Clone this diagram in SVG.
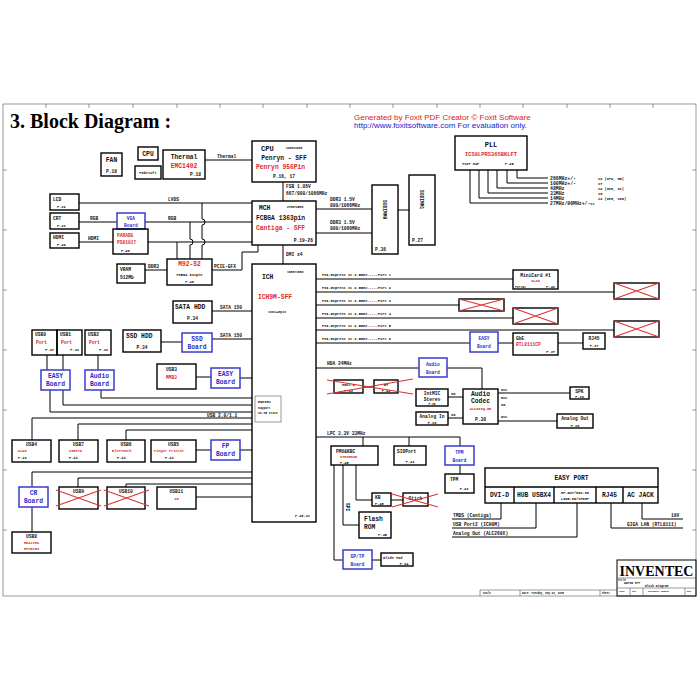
<svg xmlns="http://www.w3.org/2000/svg" width="700" height="700" viewBox="0 0 700 700">
<style>
.b{fill:none;stroke:#000;stroke-width:1.4}
.bb{fill:none;stroke:#3a3ad0;stroke-width:1.5}
.l{fill:none;stroke:#000;stroke-width:1}
.g{fill:none;stroke:#555;stroke-width:0.6}
.x{stroke:#e03030;stroke-width:1.1}
text{font-family:"Liberation Mono","DejaVu Sans Mono",monospace;font-weight:bold;font-size:6.3px;fill:#111}
.r{fill:#e02828}
.u{fill:#2b2bc8}
.s{font-size:4.6px}
.xs{font-size:3.6px}
.m{text-anchor:middle}
.e{text-anchor:end}
.c{font-size:4.8px}
</style>
<rect width="700" height="700" fill="#fff"/>
<g id="frame">
<rect x="3" y="104" width="693" height="492" class="g" stroke-width="0.8"/>
<path class="g" d="M46,104v4M89,104v4M133,104v4M177,104v4M220,104v4M263,104v4M307,104v4M350,104v4M393,104v4M437,104v4M480,104v4M523,104v4M567,104v4M610,104v4M653,104v4M3,170h4M3,230h4M3,290h4M3,350h4M3,410h4M3,470h4M3,530h4M696,170h-4M696,230h-4M696,290h-4M696,350h-4M696,410h-4M696,470h-4M696,530h-4"/>
<text x="10" y="128" style="font-family:'Liberation Serif',serif;font-size:20px;font-weight:bold;fill:#000">3. Block Diagram :</text>
<text x="354" y="120" style="font-family:'Liberation Sans',sans-serif;font-size:8px;font-weight:normal;fill:#e02020">Generated by Foxit PDF Creator © Foxit Software</text>
<text x="354" y="128" style="font-family:'Liberation Sans',sans-serif;font-size:8px;font-weight:normal;fill:#2020d0">http://www.foxitsoftware.com   For evaluation only.</text>
</g>
<g id="connectors">
<path class="l" d="M205,160H252M283,182V201M316,209H372M316,233H372M398,210H409M283,245V264"/>
<path class="l" d="M517,170V178H548M507,170V183H548M497,170V188H548M488,170V193H548M479,170V198H548M470,170V203H548"/>
<path class="l" d="M79,203H252M79,222H117M145,222H252M79,242H113M148,242H252M202,203V219a3,3 0 0 1 0,6V239a3,3 0 0 1 0,6V259M190,222V239a3,3 0 0 1 0,6V259M177,242V259M145,270H167M212,270H242V252H258V245"/>
<path class="l" d="M316,279H513M316,292H614M316,305H459M316,318H513M316,330H614M316,343H470M498,343H513M558,343H583"/>
<path class="l" d="M316,368H419M447,368H482V389M363,387H374M448,397H463M448,418H463M498,393H570M498,421H557"/>
<path class="l" d="M212,311H252M161,342H182M212,339H252M196,377H211M240,378H252"/>
<path class="l" d="M47,355V370M63,355V370M98,355V370M50,390V412H252M63,390V405H252M101,390V398H252M32,418H252M32,418V440M78,424H252M78,424V440M126,430H252M126,430V440M196,450H211M240,450H252"/>
<path class="l" d="M32,472H252M32,472V487M78,478H252M78,478V487M126,484H252M126,484V487M196,497H252M32,507V532"/>
<path class="l" d="M316,437H460M363,437V446M409,437V446M460,437V446M460,465V474M356,465V500H372M391,500H403M343,465V525H359M334,465V560H343M372,560H381"/>
<path class="l" d="M501,503V519H452M536,503V528H452M577,503V537H452M611,503V528H683M642,503V519H683"/>
<text x="217" y="158" class="s">Thermal</text>
<text x="286" y="188" class="s">FSB 1.05V</text>
<text x="286" y="195" class="s">667/800/1066MHz</text>
<text x="330" y="201" class="s">DDR3 1.5V</text>
<text x="330" y="207" class="s">800/1066MHz</text>
<text x="330" y="224" class="s">DDR3 1.5V</text>
<text x="330" y="230" class="s">800/1066MHz</text>
<text x="286" y="256" class="s">DMI x4</text>
<text x="168" y="201" class="s">LVDS</text>
<text x="90" y="220" class="s">RGB</text>
<text x="168" y="220" class="s">RGB</text>
<text x="88" y="240" class="s">HDMI</text>
<text x="148" y="268" class="s">DDR3</text>
<text x="214" y="268" class="s">PCIE-GFX</text>
<text x="550" y="180" class="c">266MHz+/-</text>
<text x="550" y="185" class="c">100MHz+/-</text>
<text x="550" y="190" class="c">48MHz</text>
<text x="550" y="195" class="c">33MHz</text>
<text x="550" y="200" class="c">14MHz</text>
<text x="550" y="205" class="c">27MHz/96MHz+/-<tspan class="xs">x1</tspan></text>
<text x="598" y="179.5" class="xs">x2 (CPU, HB)</text>
<text x="598" y="184.5" class="xs">x7</text>
<text x="598" y="189.5" class="xs">x2 (ICH, SC)</text>
<text x="598" y="194.5" class="xs">x6</text>
<text x="598" y="199.5" class="xs">x2 (ICH, SIO)</text>
<text x="322" y="276" class="xs">PCI-Express x1 2.5GHz-----Port 1</text>
<text x="322" y="289" class="xs">PCI-Express x1 2.5GHz-----Port 2</text>
<text x="322" y="302" class="xs">PCI-Express x1 2.5GHz-----Port 3</text>
<text x="322" y="315" class="xs">PCI-Express x1 2.5GHz-----Port 4</text>
<text x="322" y="327" class="xs">PCI-Express x1 2.5GHz-----Port 5</text>
<text x="322" y="340" class="xs">PCI-Express x1 2.5GHz-----Port 6</text>
<text x="327" y="365" class="s">HDA 24MHz</text>
<text x="451" y="395" class="xs">IN</text>
<text x="451" y="416" class="xs">IN</text>
<text x="501" y="391" class="xs">Out</text>
<text x="501" y="399" class="xs">Out</text>
<text x="501" y="406" class="xs">IN</text>
<text x="501" y="418" class="xs">Out</text>
<text x="220" y="309" class="s">SATA 150</text>
<text x="220" y="337" class="s">SATA 150</text>
<text x="207" y="416.5" class="s">USB 2.0/1.1</text>
<text x="327" y="435" class="s">LPC 3.3V 33MHz</text>
<text class="s" transform="translate(346,503) rotate(90)">SPI</text>
<text x="453" y="517" class="s">TMDS (Cantiga)</text>
<text x="453" y="526" class="s">USB Port2 (ICH9M)</text>
<text x="453" y="535" class="s">Analog Out (ALC269X)</text>
<text x="627" y="526" class="s">GIGA LAN (RTL8111)</text>
<text x="671" y="517" class="s">19V</text>
</g>
<g id="fan"><rect class="b" x="101" y="153" width="21" height="23"/><text x="111.5" y="162" class="m">FAN</text><text x="111.5" y="173" class="m s">P.18</text></g>
<g id="cpu-small"><rect class="b" x="138" y="147" width="20" height="13"/><text x="148" y="156" class="m">CPU</text></g>
<g id="fab"><rect class="b" x="135" y="166" width="26" height="13"/><text x="148" y="174" class="m xs">Fabrsoft</text></g>
<g id="thermal"><rect class="b" x="163" y="150" width="42" height="29"/><text x="184" y="159" class="m">Thermal</text><text x="184" y="167.5" class="m r">EMC1402</text><text x="190" y="176" class="s">P.18</text></g>
<g id="cpu"><rect class="b" x="252" y="141" width="64" height="41"/><text x="261" y="151" style="font-size:7px">CPU</text><text x="286" y="149" class="xs" style="font-size:3px">22mm×22mm</text><text x="284" y="159.5" class="m">Penryn - SFF</text><text x="256" y="169" class="r">Penryn 956Pin</text><text x="284" y="178" class="m s">P.16, 17</text></g>
<g id="mch"><rect class="b" x="252" y="201" width="64" height="44"/><text x="259" y="210">MCH</text><text x="287" y="208" class="xs" style="font-size:3px">27mm×25mm</text><text x="256" y="220">FCBGA 1363pin</text><text x="256" y="230" class="r">Cantiga - SFF</text><text x="313" y="242" class="e s">P.19-26</text></g>
<g id="sodimm0"><rect class="b" x="372" y="185" width="26" height="69"/><text transform="translate(383,200) rotate(90)" class="s">SODIMM0</text><text x="375" y="251" class="s">P.36</text></g>
<g id="sodimm1"><rect class="b" x="409" y="175" width="26" height="70"/><text transform="translate(420,190) rotate(90)" class="s">SODIMM1</text><text x="412" y="242" class="s">P.27</text></g>
<g id="pll"><rect class="b" x="455" y="136" width="72" height="34"/><text x="491" y="147" class="m" style="font-size:7px">PLL</text><text x="491" y="156" class="m r" style="font-size:5.4px">ICS9LPRS365BKLFT</text><text x="462" y="164.5" class="xs">TSSP 64P</text><text x="505" y="164.5" class="xs">P.25</text></g>
<g id="lcd"><rect class="b" x="50" y="194" width="29" height="16"/><text x="53" y="200.5" class="s">LCD</text><text x="57" y="208" class="xs">P.32</text></g>
<g id="crt"><rect class="b" x="50" y="213" width="29" height="16"/><text x="53" y="219.5" class="s">CRT</text><text x="57" y="227" class="xs">P.33</text></g>
<g id="hdmi"><rect class="b" x="50" y="233" width="29" height="15"/><text x="53" y="238.5" class="s">HDMI</text><text x="57" y="246" class="xs">P.40</text></g>
<g id="vga-board"><rect class="bb" x="117" y="213" width="28" height="16"/><text x="131" y="220" class="m u s">VGA</text><text x="131" y="227" class="m u s">Board</text></g>
<g id="parade"><rect class="b" x="113" y="229" width="35" height="25"/><text x="117" y="237" class="r s">PARADE</text><text x="117" y="244" class="r s">PS8101T</text><text x="121" y="252" class="xs">P.48</text></g>
<g id="vram"><rect class="b" x="117" y="264" width="28" height="19"/><text x="120" y="270.5" class="s">VRAM</text><text x="120" y="279" class="s">512Mb</text></g>
<g id="m92"><rect class="b" x="167" y="259" width="45" height="26"/><text x="189.5" y="266" class="m r">M92-S2</text><text x="189.5" y="276" class="m xs">FCBGA 631pin</text><text x="189.5" y="283" class="m xs">P.40</text></g>
<g id="ich"><rect class="b" x="252" y="264" width="64" height="258"/><text x="262" y="279">ICH</text><text x="287" y="273" class="xs" style="font-size:3px">16mm×16mm</text><text x="258" y="299" class="r">ICH9M-SFF</text><text x="268" y="313" class="xs" style="font-size:3px">1363+48pin</text><text x="310" y="517" class="e xs">P.20-31</text>
<rect x="255" y="396" width="26" height="26" class="g"/><text x="258" y="403" class="xs">ENCIR1</text><text x="258" y="409" class="xs" style="font-size:3px">Support</text><text x="258" y="414" class="xs" style="font-size:3px">S3-S5 state</text></g>
<g id="minicard"><rect class="b" x="513" y="270" width="45" height="19"/><text x="535.5" y="276.5" class="m s">MiniCard #1</text><text x="535.5" y="282" class="m r xs">WLAN</text><text x="515" y="287.5" class="xs" style="font-size:3px">Port#1</text><text x="555" y="287.5" class="e xs">P.43</text></g>
<g id="nc1"><rect class="b" x="614" y="283" width="45" height="16"/><path class="x" d="M614,283L659,299M614,299L659,283"/></g>
<g id="nc2"><rect class="b" x="459" y="299" width="45" height="12"/><path class="x" d="M459,299L504,311M459,311L504,299"/></g>
<g id="nc3"><rect class="b" x="513" y="308" width="45" height="16"/><path class="x" d="M513,308L558,324M513,324L558,308"/></g>
<g id="nc4"><rect class="b" x="614" y="321" width="45" height="16"/><path class="x" d="M614,321L659,337M614,337L659,321"/></g>
<g id="easy-board-lan"><rect class="bb" x="470" y="332" width="28" height="20"/><text x="484" y="340" class="m u s">EASY</text><text x="484" y="348" class="m u s">Board</text></g>
<g id="gbe"><rect class="b" x="513" y="333" width="45" height="22"/><text x="516" y="339.5" class="s">GbE</text><text x="516" y="346" class="r s">RTL8111CP</text><text x="555" y="352.5" class="e xs">P.37</text></g>
<g id="rj45"><rect class="b" x="583" y="333" width="22" height="16"/><text x="594" y="339.5" class="m s">RJ45</text><text x="594" y="347" class="m xs">P.37</text></g>
<g id="audio-board"><rect class="bb" x="419" y="358" width="28" height="19"/><text x="433" y="366" class="m u s">Audio</text><text x="433" y="374" class="m u s">Board</text></g>
<g id="mdc"><rect class="b" x="334" y="380" width="29" height="13"/><text x="348.5" y="386" class="m xs">MDC1.5</text><text x="348.5" y="391.5" class="m xs">P.43</text></g>
<g id="bt"><rect class="b" x="374" y="380" width="24" height="13"/><text x="386" y="386" class="m xs">BT</text><text x="386" y="391.5" class="m xs">P.44</text></g>
<path class="x" d="M327,380L413,394M327,394L413,379"/>
<g id="intmic"><rect class="b" x="416" y="389" width="32" height="17"/><text x="432" y="395" class="m s">IntMIC</text><text x="432" y="400.5" class="m s">Stereo</text><text x="432" y="405" class="m xs" style="font-size:3px">P.39</text></g>
<g id="analog-in"><rect class="b" x="416" y="412" width="32" height="13"/><text x="432" y="418" class="m s">Analog In</text><text x="432" y="423.5" class="m xs">P.39</text></g>
<g id="codec"><rect class="b" x="463" y="389" width="35" height="35"/><text x="480.5" y="396" class="m">Audio</text><text x="480.5" y="403" class="m">Codec</text><text x="480.5" y="410" class="m r xs">ALC269Q-GR</text><text x="480.5" y="421" class="m s">P.38</text></g>
<g id="spk"><rect class="b" x="570" y="387" width="19" height="12"/><text x="579.5" y="392.5" class="m s">SPK</text><text x="579.5" y="397.5" class="m xs">P.39</text></g>
<g id="analog-out"><rect class="b" x="557" y="414" width="36" height="14"/><text x="575" y="420" class="m s">Analog Out</text><text x="575" y="426.5" class="m xs">P.39</text></g>
<g id="sata-hdd"><rect class="b" x="173" y="301" width="39" height="22"/><text x="175" y="309">SATA HDD</text><text x="192.5" y="320" class="m s">P.34</text></g>
<g id="ssd-hdd"><rect class="b" x="123" y="330" width="38" height="22"/><text x="126" y="338">SSD HDD</text><text x="142" y="349" class="m s">P.34</text></g>
<g id="ssd-board"><rect class="bb" x="182" y="333" width="30" height="19"/><text x="197" y="340.5" class="m u">SSD</text><text x="197" y="348.5" class="m u">Board</text></g>
<g id="usb3"><rect class="b" x="157" y="364" width="39" height="25"/><text x="166" y="370.5" class="s">USB3</text><text x="166" y="379" class="r s">MMB3</text></g>
<g id="easy-board-usb3"><rect class="bb" x="211" y="368" width="29" height="20"/><text x="225.5" y="376" class="m u">EASY</text><text x="225.5" y="384" class="m u">Board</text></g>
<g id="usb0"><rect class="b" x="32" y="330" width="25" height="25"/><text x="35" y="336" class="s">USB0</text><text x="36" y="344" class="r s">Port</text><text x="54" y="351" class="e xs">P.37</text></g>
<g id="usb1"><rect class="b" x="57" y="330" width="25" height="25"/><text x="60" y="336" class="s">USB1</text><text x="61" y="344" class="r s">Port</text><text x="79" y="351" class="e xs">P.33</text></g>
<g id="usb2"><rect class="b" x="85" y="330" width="26" height="25"/><text x="88" y="336" class="s">USB2</text><text x="89" y="344" class="r s">Port</text><text x="108" y="351" class="e xs">P.33</text></g>
<g id="easy-board-usb"><rect class="bb" x="41" y="370" width="29" height="20"/><text x="55.5" y="378" class="m u">EASY</text><text x="55.5" y="386" class="m u">Board</text></g>
<g id="audio-board-usb"><rect class="bb" x="85" y="370" width="29" height="20"/><text x="99.5" y="378" class="m u">Audio</text><text x="99.5" y="386" class="m u">Board</text></g>
<g id="usb4"><rect class="b" x="12" y="440" width="39" height="22"/><text x="31.5" y="446" class="m s">USB4</text><text x="18" y="452" class="r xs">WLAN</text><text x="18" y="458.5" class="xs">P.43</text></g>
<g id="usb7"><rect class="b" x="59" y="440" width="39" height="22"/><text x="78.5" y="446" class="m s">USB7</text><text x="69" y="452" class="r xs">Camera</text><text x="69" y="458.5" class="xs">P.43</text></g>
<g id="usb6"><rect class="b" x="107" y="440" width="38" height="22"/><text x="126" y="446" class="m s">USB6</text><text x="112" y="452" class="r xs">BlueTooth</text><text x="117" y="458.5" class="xs">P.43</text></g>
<g id="usb5"><rect class="b" x="151" y="440" width="45" height="22"/><text x="173.5" y="446" class="m s">USB5</text><text x="154" y="452" class="r xs">Finger Printer</text><text x="165" y="458.5" class="xs">P.43</text></g>
<g id="fp-board"><rect class="bb" x="211" y="440" width="29" height="20"/><text x="225.5" y="448" class="m u">FP</text><text x="225.5" y="456" class="m u">Board</text></g>
<g id="cr-board"><rect class="bb" x="19" y="487" width="29" height="20"/><text x="33.5" y="495" class="m u">CR</text><text x="33.5" y="503" class="m u">Board</text></g>
<g id="usb9"><rect class="b" x="59" y="487" width="39" height="22"/><text x="78.5" y="492.5" class="m s">USB9</text><path class="x" d="M56,490L101,506M56,506L101,490"/></g>
<g id="usb10"><rect class="b" x="107" y="487" width="38" height="22"/><text x="126" y="492.5" class="m s">USB10</text><path class="x" d="M104,490L149,506M104,506L149,490"/></g>
<g id="usb11"><rect class="b" x="157" y="487" width="39" height="22"/><text x="176.5" y="492.5" class="m s">USB11</text><text x="176.5" y="499.5" class="m r xs">3G</text></g>
<g id="usb8"><rect class="b" x="12" y="532" width="39" height="21"/><text x="31.5" y="537.5" class="m s">USB8</text><text x="31.5" y="543.5" class="m r xs">REALTEK</text><text x="31.5" y="549.5" class="m r xs">RTS5159</text></g>
<g id="pmu"><rect class="b" x="331" y="446" width="47" height="19"/><text x="336" y="452.5" class="s">PMU&amp;KBC</text><text x="340" y="458" class="r xs">ITE8502E</text><text x="340" y="464" class="xs">P.45</text></g>
<g id="sioport"><rect class="b" x="394" y="446" width="32" height="19"/><text x="397" y="452.5" class="s">SIOPort</text><text x="410" y="463" class="m xs">P.43</text></g>
<g id="tpm-board"><rect class="bb" x="445" y="446" width="29" height="19"/><text x="459.5" y="453.5" class="m u s">TPM</text><text x="459.5" y="461.5" class="m u s">Board</text></g>
<g id="tpm"><rect class="b" x="445" y="474" width="29" height="19"/><text x="450" y="480.5" class="s">TPM</text><text x="464" y="490" class="m xs">P.43</text></g>
<g id="kb"><rect class="b" x="372" y="493" width="19" height="13"/><text x="375" y="499" class="s">KB</text><text x="375" y="504.5" class="xs">P.45</text></g>
<g id="stick"><rect class="b" x="403" y="493" width="25" height="13"/><text x="415.5" y="500" class="m s">Stick</text><path class="x" d="M392,494L438,507M392,507L438,494"/></g>
<g id="flash"><rect class="b" x="359" y="512" width="32" height="26"/><text x="364" y="521">Flash</text><text x="364" y="529">ROM</text><text x="387" y="535.5" class="e xs">P.45</text></g>
<g id="gptp-board"><rect class="bb" x="343" y="550" width="29" height="19"/><text x="357.5" y="557.5" class="m u s">GP/TP</text><text x="357.5" y="565.5" class="m u s">Board</text></g>
<g id="glide-pad"><rect class="b" x="381" y="553" width="32" height="13"/><text x="383" y="559" class="xs">Glide Pad</text><text x="404" y="564.5" class="m xs">P.34</text></g>
<g id="easy-port"><rect class="b" x="485" y="468" width="173" height="35"/><path class="b" d="M485,487H658M514,487V503M554,487V503M596,487V503M623,487V503"/><text x="571.5" y="480" class="m">EASY PORT</text><text x="499.5" y="497" class="m">DVI-D</text><text x="534" y="497" class="m">HUB USBX4</text><text x="575" y="494" class="m xs">HP-OUT/MIC-IN</text><text x="575" y="499.5" class="m xs">LINE-IN/SPDIF</text><text x="609.5" y="497" class="m">RJ45</text><text x="640.5" y="497" class="m">AC JACK</text></g>
<g id="title-block"><rect class="l" x="617" y="560" width="79" height="36"/><path class="g" d="M617,578H696M617,588H696M630,588V596M643,588V596M685,588V596M480,590H617M480,590V596M520,590V596M600,590V596"/><text x="656.5" y="575.5" class="m" style="font-family:'Liberation Serif',serif;font-size:14px;fill:#000">INVENTEC</text><text x="618" y="581" class="xs" style="font-size:2.6px">Title</text><text x="624" y="584" class="xs" style="font-size:3px">NAPOO SFF</text><text x="645" y="587.3" class="xs" style="font-size:3px">Block Diagram</text><text x="619" y="592" class="xs" style="font-size:2.4px">Size</text><text x="632" y="592" class="xs" style="font-size:2.4px">Doc</text><text x="648" y="592" class="xs" style="font-size:2.4px">Document Number</text><text x="687" y="592" class="xs" style="font-size:2.4px">Rev</text><text x="483" y="594" class="xs" style="font-size:2.6px">Scale</text><text x="522" y="594" class="xs" style="font-size:2.6px">Date: Tuesday, May 20, 2008</text><text x="602" y="594" class="xs" style="font-size:2.6px">Sheet</text></g>
</svg>
